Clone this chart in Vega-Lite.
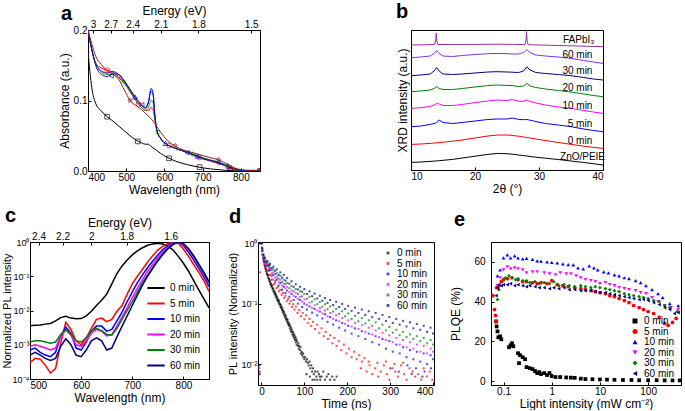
{
"$schema":"https://vega.github.io/schema/vega-lite/v6.json",
"padding":{"left":0,"top":0,"right":0,"bottom":0},
"background":"white",
"config":{
 "font":"Liberation Sans",
 "view":{"stroke":"#000000","strokeWidth":1},
 "axis":{"grid":false,"domainColor":"#000","tickColor":"#000","tickSize":-3,"labelColor":"#000","titleColor":"#000","labelFontSize":10,"titleFontSize":12,"titleFontWeight":"normal","labelPadding":4,"titlePadding":2,"labelFont":"Liberation Sans","titleFont":"Liberation Sans"},
 "legend":{"labelFontSize":10,"labelColor":"#000","rowPadding":0.5,"padding":0,"symbolStrokeWidth":1.2,"labelFont":"Liberation Sans","labelLimit":90},
 "title":{"fontSize":20,"fontWeight":"bold","anchor":"start","frame":"group","color":"#000","font":"Liberation Sans"}
},
"datasets":{
"aL":[
{"s":"0 min","x":400,"y":0.17},{"s":"0 min","x":410,"y":0.118},{"s":"0 min","x":420,"y":0.096},{"s":"0 min","x":435,"y":0.085},{"s":"0 min","x":450,"y":0.077},{"s":"0 min","x":465,"y":0.071},{"s":"0 min","x":480,"y":0.064},{"s":"0 min","x":495,"y":0.057},{"s":"0 min","x":510,"y":0.05},{"s":"0 min","x":525,"y":0.044},{"s":"0 min","x":540,"y":0.04},{"s":"0 min","x":550,"y":0.038},{"s":"0 min","x":558,"y":0.038},{"s":"0 min","x":565,"y":0.035},{"s":"0 min","x":570,"y":0.033},{"s":"0 min","x":575,"y":0.031},{"s":"0 min","x":580,"y":0.029},{"s":"0 min","x":590,"y":0.025},{"s":"0 min","x":605,"y":0.02},{"s":"0 min","x":620,"y":0.016},{"s":"0 min","x":640,"y":0.012},{"s":"0 min","x":660,"y":0.009},{"s":"0 min","x":680,"y":0.0065},{"s":"0 min","x":700,"y":0.0045},{"s":"0 min","x":720,"y":0.003},{"s":"0 min","x":740,"y":0.002},{"s":"0 min","x":760,"y":0.001},{"s":"0 min","x":780,"y":0.0005},{"s":"0 min","x":800,"y":0},{"s":"0 min","x":825,"y":0},{"s":"0 min","x":850,"y":0},
{"s":"5 min","x":400,"y":0.2},{"s":"5 min","x":410,"y":0.172},{"s":"5 min","x":420,"y":0.153},{"s":"5 min","x":435,"y":0.146},{"s":"5 min","x":450,"y":0.143},{"s":"5 min","x":465,"y":0.14},{"s":"5 min","x":480,"y":0.134},{"s":"5 min","x":495,"y":0.125},{"s":"5 min","x":510,"y":0.112},{"s":"5 min","x":525,"y":0.1},{"s":"5 min","x":540,"y":0.09},{"s":"5 min","x":550,"y":0.086},{"s":"5 min","x":558,"y":0.086},{"s":"5 min","x":565,"y":0.09},{"s":"5 min","x":570,"y":0.087},{"s":"5 min","x":575,"y":0.073},{"s":"5 min","x":580,"y":0.058},{"s":"5 min","x":590,"y":0.047},{"s":"5 min","x":605,"y":0.038},{"s":"5 min","x":620,"y":0.034},{"s":"5 min","x":640,"y":0.03},{"s":"5 min","x":660,"y":0.026},{"s":"5 min","x":680,"y":0.021},{"s":"5 min","x":700,"y":0.017},{"s":"5 min","x":720,"y":0.014},{"s":"5 min","x":740,"y":0.011},{"s":"5 min","x":760,"y":0.007},{"s":"5 min","x":780,"y":0.003},{"s":"5 min","x":800,"y":0.001},{"s":"5 min","x":825,"y":0},{"s":"5 min","x":850,"y":0},
{"s":"10 min","x":400,"y":0.2},{"s":"10 min","x":410,"y":0.172},{"s":"10 min","x":420,"y":0.153},{"s":"10 min","x":435,"y":0.142},{"s":"10 min","x":450,"y":0.139},{"s":"10 min","x":465,"y":0.141},{"s":"10 min","x":480,"y":0.137},{"s":"10 min","x":495,"y":0.127},{"s":"10 min","x":510,"y":0.115},{"s":"10 min","x":525,"y":0.103},{"s":"10 min","x":540,"y":0.093},{"s":"10 min","x":550,"y":0.089},{"s":"10 min","x":558,"y":0.097},{"s":"10 min","x":565,"y":0.117},{"s":"10 min","x":570,"y":0.112},{"s":"10 min","x":575,"y":0.08},{"s":"10 min","x":580,"y":0.058},{"s":"10 min","x":590,"y":0.046},{"s":"10 min","x":605,"y":0.038},{"s":"10 min","x":620,"y":0.034},{"s":"10 min","x":640,"y":0.03},{"s":"10 min","x":660,"y":0.027},{"s":"10 min","x":680,"y":0.022},{"s":"10 min","x":700,"y":0.018},{"s":"10 min","x":720,"y":0.015},{"s":"10 min","x":740,"y":0.012},{"s":"10 min","x":760,"y":0.008},{"s":"10 min","x":780,"y":0.004},{"s":"10 min","x":800,"y":0.001},{"s":"10 min","x":825,"y":0},{"s":"10 min","x":850,"y":0},
{"s":"20 min","x":400,"y":0.2},{"s":"20 min","x":410,"y":0.172},{"s":"20 min","x":420,"y":0.152},{"s":"20 min","x":435,"y":0.14},{"s":"20 min","x":450,"y":0.137},{"s":"20 min","x":465,"y":0.137},{"s":"20 min","x":480,"y":0.132},{"s":"20 min","x":495,"y":0.125},{"s":"20 min","x":510,"y":0.113},{"s":"20 min","x":525,"y":0.1},{"s":"20 min","x":540,"y":0.09},{"s":"20 min","x":550,"y":0.086},{"s":"20 min","x":558,"y":0.09},{"s":"20 min","x":565,"y":0.1},{"s":"20 min","x":570,"y":0.098},{"s":"20 min","x":575,"y":0.075},{"s":"20 min","x":580,"y":0.057},{"s":"20 min","x":590,"y":0.046},{"s":"20 min","x":605,"y":0.038},{"s":"20 min","x":620,"y":0.034},{"s":"20 min","x":640,"y":0.03},{"s":"20 min","x":660,"y":0.027},{"s":"20 min","x":680,"y":0.023},{"s":"20 min","x":700,"y":0.019},{"s":"20 min","x":720,"y":0.016},{"s":"20 min","x":740,"y":0.013},{"s":"20 min","x":760,"y":0.009},{"s":"20 min","x":780,"y":0.004},{"s":"20 min","x":800,"y":0.001},{"s":"20 min","x":825,"y":0},{"s":"20 min","x":850,"y":0},
{"s":"30 min","x":400,"y":0.2},{"s":"30 min","x":410,"y":0.172},{"s":"30 min","x":420,"y":0.15},{"s":"30 min","x":435,"y":0.137},{"s":"30 min","x":450,"y":0.134},{"s":"30 min","x":465,"y":0.138},{"s":"30 min","x":480,"y":0.137},{"s":"30 min","x":495,"y":0.128},{"s":"30 min","x":510,"y":0.116},{"s":"30 min","x":525,"y":0.104},{"s":"30 min","x":540,"y":0.094},{"s":"30 min","x":550,"y":0.09},{"s":"30 min","x":558,"y":0.098},{"s":"30 min","x":565,"y":0.113},{"s":"30 min","x":570,"y":0.108},{"s":"30 min","x":575,"y":0.078},{"s":"30 min","x":580,"y":0.058},{"s":"30 min","x":590,"y":0.046},{"s":"30 min","x":605,"y":0.038},{"s":"30 min","x":620,"y":0.034},{"s":"30 min","x":640,"y":0.03},{"s":"30 min","x":660,"y":0.026},{"s":"30 min","x":680,"y":0.022},{"s":"30 min","x":700,"y":0.018},{"s":"30 min","x":720,"y":0.015},{"s":"30 min","x":740,"y":0.012},{"s":"30 min","x":760,"y":0.008},{"s":"30 min","x":780,"y":0.003},{"s":"30 min","x":800,"y":0.001},{"s":"30 min","x":825,"y":0},{"s":"30 min","x":850,"y":0},
{"s":"60 min","x":400,"y":0.2},{"s":"60 min","x":410,"y":0.18},{"s":"60 min","x":420,"y":0.163},{"s":"60 min","x":435,"y":0.151},{"s":"60 min","x":450,"y":0.142},{"s":"60 min","x":465,"y":0.137},{"s":"60 min","x":480,"y":0.13},{"s":"60 min","x":495,"y":0.115},{"s":"60 min","x":510,"y":0.1},{"s":"60 min","x":525,"y":0.093},{"s":"60 min","x":540,"y":0.087},{"s":"60 min","x":550,"y":0.082},{"s":"60 min","x":558,"y":0.078},{"s":"60 min","x":565,"y":0.074},{"s":"60 min","x":570,"y":0.071},{"s":"60 min","x":575,"y":0.067},{"s":"60 min","x":580,"y":0.063},{"s":"60 min","x":590,"y":0.055},{"s":"60 min","x":605,"y":0.045},{"s":"60 min","x":620,"y":0.038},{"s":"60 min","x":640,"y":0.032},{"s":"60 min","x":660,"y":0.028},{"s":"60 min","x":680,"y":0.025},{"s":"60 min","x":700,"y":0.022},{"s":"60 min","x":720,"y":0.019},{"s":"60 min","x":740,"y":0.016},{"s":"60 min","x":760,"y":0.011},{"s":"60 min","x":780,"y":0.005},{"s":"60 min","x":800,"y":0.002},{"s":"60 min","x":825,"y":0.001},{"s":"60 min","x":850,"y":0.001}
],
"aM":[
{"s":"0 min","x":450,"y":0.077},{"s":"0 min","x":530,"y":0.042},{"s":"0 min","x":612,"y":0.018},{"s":"0 min","x":692,"y":0.0055},{"s":"0 min","x":772,"y":0.0007},{"s":"0 min","x":850,"y":0},
{"s":"5 min","x":450,"y":0.143},{"s":"5 min","x":532,"y":0.095},{"s":"5 min","x":612,"y":0.036},{"s":"5 min","x":692,"y":0.019},{"s":"5 min","x":772,"y":0.005},
{"s":"10 min","x":523,"y":0.105},{"s":"10 min","x":603,"y":0.039},{"s":"10 min","x":686,"y":0.021},{"s":"10 min","x":766,"y":0.007},
{"s":"20 min","x":492,"y":0.127},{"s":"20 min","x":583,"y":0.055},{"s":"20 min","x":674,"y":0.024},{"s":"20 min","x":765,"y":0.008},
{"s":"30 min","x":461,"y":0.135},{"s":"30 min","x":541,"y":0.094},{"s":"30 min","x":659,"y":0.026},{"s":"30 min","x":740,"y":0.012},
{"s":"60 min","x":510,"y":0.1},{"s":"60 min","x":628,"y":0.036},{"s":"60 min","x":741,"y":0.016},{"s":"60 min","x":848,"y":0.001}
],
"bL":[
{"s":"ZnO/PEIE","x":10,"y":7.6},{"s":"ZnO/PEIE","x":11.5,"y":8},{"s":"ZnO/PEIE","x":13,"y":8.6},{"s":"ZnO/PEIE","x":13.6,"y":8.9},{"s":"ZnO/PEIE","x":14,"y":9.1},{"s":"ZnO/PEIE","x":14.4,"y":9.3},{"s":"ZnO/PEIE","x":15,"y":9.7},{"s":"ZnO/PEIE","x":16.5,"y":10.6},{"s":"ZnO/PEIE","x":18,"y":12},{"s":"ZnO/PEIE","x":20,"y":13.8},{"s":"ZnO/PEIE","x":22,"y":15.6},{"s":"ZnO/PEIE","x":23.5,"y":16.6},{"s":"ZnO/PEIE","x":25,"y":16.3},{"s":"ZnO/PEIE","x":25.8,"y":15.8},{"s":"ZnO/PEIE","x":26.8,"y":15},{"s":"ZnO/PEIE","x":27.6,"y":14.4},{"s":"ZnO/PEIE","x":28.1,"y":14},{"s":"ZnO/PEIE","x":28.6,"y":13.5},{"s":"ZnO/PEIE","x":29.5,"y":12.8},{"s":"ZnO/PEIE","x":31,"y":11.8},{"s":"ZnO/PEIE","x":33,"y":10.5},{"s":"ZnO/PEIE","x":35,"y":9},{"s":"ZnO/PEIE","x":37,"y":7.5},{"s":"ZnO/PEIE","x":38.5,"y":6.3},{"s":"ZnO/PEIE","x":40,"y":5},
{"s":"0 min","x":10,"y":25.6},{"s":"0 min","x":11.5,"y":26},{"s":"0 min","x":13,"y":26.6},{"s":"0 min","x":13.6,"y":27},{"s":"0 min","x":14,"y":27.2},{"s":"0 min","x":14.4,"y":27.4},{"s":"0 min","x":15,"y":27.8},{"s":"0 min","x":16.5,"y":28.8},{"s":"0 min","x":18,"y":30},{"s":"0 min","x":20,"y":32},{"s":"0 min","x":22,"y":34},{"s":"0 min","x":23.5,"y":35},{"s":"0 min","x":25,"y":35},{"s":"0 min","x":25.8,"y":34.6},{"s":"0 min","x":26.8,"y":33.8},{"s":"0 min","x":27.6,"y":33},{"s":"0 min","x":28.1,"y":32.5},{"s":"0 min","x":28.6,"y":32},{"s":"0 min","x":29.5,"y":31},{"s":"0 min","x":31,"y":29.5},{"s":"0 min","x":33,"y":27.5},{"s":"0 min","x":35,"y":25.6},{"s":"0 min","x":37,"y":23.8},{"s":"0 min","x":38.5,"y":22.6},{"s":"0 min","x":40,"y":21.6},
{"s":"5 min","x":10,"y":43.3},{"s":"5 min","x":11.5,"y":44},{"s":"5 min","x":13,"y":45.5},{"s":"5 min","x":13.6,"y":46.5},{"s":"5 min","x":14,"y":47.5},{"s":"5 min","x":14.4,"y":50},{"s":"5 min","x":15,"y":47.5},{"s":"5 min","x":16.5,"y":46.5},{"s":"5 min","x":18,"y":47.5},{"s":"5 min","x":20,"y":49},{"s":"5 min","x":22,"y":50.5},{"s":"5 min","x":23.5,"y":51},{"s":"5 min","x":25,"y":51},{"s":"5 min","x":25.8,"y":52},{"s":"5 min","x":26.8,"y":50.6},{"s":"5 min","x":27.6,"y":50.3},{"s":"5 min","x":28.1,"y":50.5},{"s":"5 min","x":28.6,"y":49.8},{"s":"5 min","x":29.5,"y":48.5},{"s":"5 min","x":31,"y":46.5},{"s":"5 min","x":33,"y":45},{"s":"5 min","x":35,"y":43.3},{"s":"5 min","x":37,"y":41},{"s":"5 min","x":38.5,"y":39.5},{"s":"5 min","x":40,"y":38.3},
{"s":"10 min","x":10,"y":61.6},{"s":"10 min","x":11.5,"y":62.3},{"s":"10 min","x":13,"y":63.5},{"s":"10 min","x":13.6,"y":65},{"s":"10 min","x":14,"y":66.5},{"s":"10 min","x":14.4,"y":66},{"s":"10 min","x":15,"y":64.5},{"s":"10 min","x":16.5,"y":64.5},{"s":"10 min","x":18,"y":65.5},{"s":"10 min","x":20,"y":67.5},{"s":"10 min","x":22,"y":69},{"s":"10 min","x":23.5,"y":70},{"s":"10 min","x":25,"y":69.5},{"s":"10 min","x":25.8,"y":70.5},{"s":"10 min","x":26.8,"y":68.8},{"s":"10 min","x":27.6,"y":68.7},{"s":"10 min","x":28.1,"y":70},{"s":"10 min","x":28.6,"y":68.5},{"s":"10 min","x":29.5,"y":67},{"s":"10 min","x":31,"y":65},{"s":"10 min","x":33,"y":63},{"s":"10 min","x":35,"y":61.6},{"s":"10 min","x":37,"y":59.5},{"s":"10 min","x":38.5,"y":58},{"s":"10 min","x":40,"y":56.6},
{"s":"20 min","x":10,"y":78.3},{"s":"20 min","x":11.5,"y":79},{"s":"20 min","x":13,"y":80},{"s":"20 min","x":13.6,"y":81.5},{"s":"20 min","x":14,"y":83.5},{"s":"20 min","x":14.4,"y":81.5},{"s":"20 min","x":15,"y":80.5},{"s":"20 min","x":16.5,"y":80.5},{"s":"20 min","x":18,"y":81.5},{"s":"20 min","x":20,"y":83},{"s":"20 min","x":22,"y":84.5},{"s":"20 min","x":23.5,"y":85},{"s":"20 min","x":25,"y":84.6},{"s":"20 min","x":25.8,"y":84.5},{"s":"20 min","x":26.8,"y":83.5},{"s":"20 min","x":27.6,"y":84},{"s":"20 min","x":28.1,"y":86.7},{"s":"20 min","x":28.6,"y":84},{"s":"20 min","x":29.5,"y":82.5},{"s":"20 min","x":31,"y":81},{"s":"20 min","x":33,"y":79.5},{"s":"20 min","x":35,"y":78},{"s":"20 min","x":37,"y":76},{"s":"20 min","x":38.5,"y":74.5},{"s":"20 min","x":40,"y":73.3},
{"s":"30 min","x":10,"y":94.3},{"s":"30 min","x":11.5,"y":95},{"s":"30 min","x":13,"y":96},{"s":"30 min","x":13.6,"y":99},{"s":"30 min","x":14,"y":102.5},{"s":"30 min","x":14.4,"y":99},{"s":"30 min","x":15,"y":96},{"s":"30 min","x":16.5,"y":95.5},{"s":"30 min","x":18,"y":96},{"s":"30 min","x":20,"y":97},{"s":"30 min","x":22,"y":98},{"s":"30 min","x":23.5,"y":98.3},{"s":"30 min","x":25,"y":98},{"s":"30 min","x":25.8,"y":97.8},{"s":"30 min","x":26.8,"y":97.5},{"s":"30 min","x":27.6,"y":99},{"s":"30 min","x":28.1,"y":103.3},{"s":"30 min","x":28.6,"y":100},{"s":"30 min","x":29.5,"y":97.5},{"s":"30 min","x":31,"y":96.5},{"s":"30 min","x":33,"y":95.5},{"s":"30 min","x":35,"y":94.3},{"s":"30 min","x":37,"y":92.5},{"s":"30 min","x":38.5,"y":91},{"s":"30 min","x":40,"y":90},
{"s":"60 min","x":10,"y":112.3},{"s":"60 min","x":11.5,"y":113},{"s":"60 min","x":13,"y":114},{"s":"60 min","x":13.6,"y":116.5},{"s":"60 min","x":14,"y":119.5},{"s":"60 min","x":14.4,"y":116.5},{"s":"60 min","x":15,"y":114},{"s":"60 min","x":16.5,"y":113.5},{"s":"60 min","x":18,"y":114.5},{"s":"60 min","x":20,"y":115.5},{"s":"60 min","x":22,"y":116.3},{"s":"60 min","x":23.5,"y":116.6},{"s":"60 min","x":25,"y":116.3},{"s":"60 min","x":25.8,"y":116},{"s":"60 min","x":26.8,"y":116},{"s":"60 min","x":27.6,"y":117.5},{"s":"60 min","x":28.1,"y":120.5},{"s":"60 min","x":28.6,"y":117.5},{"s":"60 min","x":29.5,"y":115},{"s":"60 min","x":31,"y":114},{"s":"60 min","x":33,"y":113},{"s":"60 min","x":35,"y":111.6},{"s":"60 min","x":37,"y":109.5},{"s":"60 min","x":38.5,"y":108},{"s":"60 min","x":40,"y":106.6},
{"s":"FAPbI3","x":10,"y":125},{"s":"FAPbI3","x":12,"y":125.2},{"s":"FAPbI3","x":13.7,"y":125.5},{"s":"FAPbI3","x":13.85,"y":129},{"s":"FAPbI3","x":13.95,"y":137},{"s":"FAPbI3","x":14.05,"y":129},{"s":"FAPbI3","x":14.2,"y":125.5},{"s":"FAPbI3","x":16,"y":125.5},{"s":"FAPbI3","x":20,"y":125.6},{"s":"FAPbI3","x":24,"y":125.8},{"s":"FAPbI3","x":26,"y":125.6},{"s":"FAPbI3","x":27.8,"y":125.4},{"s":"FAPbI3","x":27.95,"y":129},{"s":"FAPbI3","x":28.05,"y":138.5},{"s":"FAPbI3","x":28.15,"y":129},{"s":"FAPbI3","x":28.3,"y":125.3},{"s":"FAPbI3","x":30,"y":125},{"s":"FAPbI3","x":33,"y":124.5},{"s":"FAPbI3","x":36,"y":124},{"s":"FAPbI3","x":40,"y":123.3}
],
"bT":[
{"t":"FAPbI₃","x":36.2,"y":130},{"t":"60 min","x":36.0,"y":115},{"t":"30 min","x":36.0,"y":99},{"t":"20 min","x":36.0,"y":82},{"t":"10 min","x":36.0,"y":64},{"t":"5 min","x":36.4,"y":46.5},{"t":"0 min","x":36.4,"y":29.5},{"t":"ZnO/PEIE","x":36.8,"y":13}
],
"cL":[
{"s":"0 min","x":500,"y":0.0036},{"s":"0 min","x":510,"y":0.0037},{"s":"0 min","x":520,"y":0.0038},{"s":"0 min","x":530,"y":0.004},{"s":"0 min","x":540,"y":0.0042},{"s":"0 min","x":550,"y":0.005},{"s":"0 min","x":560,"y":0.0062},{"s":"0 min","x":570,"y":0.0068},{"s":"0 min","x":580,"y":0.006},{"s":"0 min","x":590,"y":0.0057},{"s":"0 min","x":600,"y":0.0058},{"s":"0 min","x":610,"y":0.007},{"s":"0 min","x":620,"y":0.0095},{"s":"0 min","x":630,"y":0.014},{"s":"0 min","x":640,"y":0.02},{"s":"0 min","x":650,"y":0.03},{"s":"0 min","x":660,"y":0.06},{"s":"0 min","x":670,"y":0.12},{"s":"0 min","x":680,"y":0.2},{"s":"0 min","x":690,"y":0.3},{"s":"0 min","x":700,"y":0.42},{"s":"0 min","x":710,"y":0.55},{"s":"0 min","x":720,"y":0.68},{"s":"0 min","x":730,"y":0.8},{"s":"0 min","x":740,"y":0.88},{"s":"0 min","x":750,"y":0.92},{"s":"0 min","x":760,"y":0.87},{"s":"0 min","x":770,"y":0.75},{"s":"0 min","x":780,"y":0.58},{"s":"0 min","x":790,"y":0.38},{"s":"0 min","x":800,"y":0.24},{"s":"0 min","x":810,"y":0.14},{"s":"0 min","x":820,"y":0.075},{"s":"0 min","x":830,"y":0.04},{"s":"0 min","x":840,"y":0.022},{"s":"0 min","x":850,"y":0.012},
{"s":"5 min","x":500,"y":0.0003},{"s":"5 min","x":510,"y":0.0004},{"s":"5 min","x":520,"y":0.00038},{"s":"5 min","x":530,"y":0.00025},{"s":"5 min","x":540,"y":0.00015},{"s":"5 min","x":550,"y":0.0002},{"s":"5 min","x":560,"y":0.0011},{"s":"5 min","x":570,"y":0.0045},{"s":"5 min","x":580,"y":0.0028},{"s":"5 min","x":590,"y":0.0013},{"s":"5 min","x":600,"y":0.001},{"s":"5 min","x":610,"y":0.0016},{"s":"5 min","x":620,"y":0.003},{"s":"5 min","x":630,"y":0.0055},{"s":"5 min","x":640,"y":0.006},{"s":"5 min","x":650,"y":0.0047},{"s":"5 min","x":660,"y":0.0055},{"s":"5 min","x":670,"y":0.0095},{"s":"5 min","x":680,"y":0.014},{"s":"5 min","x":690,"y":0.03},{"s":"5 min","x":700,"y":0.06},{"s":"5 min","x":710,"y":0.1},{"s":"5 min","x":720,"y":0.16},{"s":"5 min","x":730,"y":0.26},{"s":"5 min","x":740,"y":0.4},{"s":"5 min","x":750,"y":0.58},{"s":"5 min","x":760,"y":0.76},{"s":"5 min","x":770,"y":0.9},{"s":"5 min","x":780,"y":0.98},{"s":"5 min","x":790,"y":0.92},{"s":"5 min","x":800,"y":0.62},{"s":"5 min","x":810,"y":0.38},{"s":"5 min","x":820,"y":0.22},{"s":"5 min","x":830,"y":0.13},{"s":"5 min","x":840,"y":0.073},{"s":"5 min","x":850,"y":0.036},
{"s":"10 min","x":500,"y":0.0007},{"s":"10 min","x":510,"y":0.0008},{"s":"10 min","x":520,"y":0.0006},{"s":"10 min","x":530,"y":0.0005},{"s":"10 min","x":540,"y":0.00045},{"s":"10 min","x":550,"y":0.0006},{"s":"10 min","x":560,"y":0.0018},{"s":"10 min","x":570,"y":0.0033},{"s":"10 min","x":580,"y":0.0022},{"s":"10 min","x":590,"y":0.0008},{"s":"10 min","x":600,"y":0.0007},{"s":"10 min","x":610,"y":0.0012},{"s":"10 min","x":620,"y":0.0025},{"s":"10 min","x":630,"y":0.0035},{"s":"10 min","x":640,"y":0.0035},{"s":"10 min","x":650,"y":0.0025},{"s":"10 min","x":660,"y":0.0028},{"s":"10 min","x":670,"y":0.005},{"s":"10 min","x":680,"y":0.009},{"s":"10 min","x":690,"y":0.018},{"s":"10 min","x":700,"y":0.035},{"s":"10 min","x":710,"y":0.065},{"s":"10 min","x":720,"y":0.11},{"s":"10 min","x":730,"y":0.18},{"s":"10 min","x":740,"y":0.28},{"s":"10 min","x":750,"y":0.42},{"s":"10 min","x":760,"y":0.6},{"s":"10 min","x":770,"y":0.8},{"s":"10 min","x":780,"y":0.95},{"s":"10 min","x":790,"y":1.0},{"s":"10 min","x":800,"y":0.78},{"s":"10 min","x":810,"y":0.5},{"s":"10 min","x":820,"y":0.3},{"s":"10 min","x":830,"y":0.17},{"s":"10 min","x":840,"y":0.095},{"s":"10 min","x":850,"y":0.05},
{"s":"20 min","x":500,"y":0.0009},{"s":"20 min","x":510,"y":0.001},{"s":"20 min","x":520,"y":0.0009},{"s":"20 min","x":530,"y":0.0008},{"s":"20 min","x":540,"y":0.0007},{"s":"20 min","x":550,"y":0.0008},{"s":"20 min","x":560,"y":0.0018},{"s":"20 min","x":570,"y":0.0027},{"s":"20 min","x":580,"y":0.0019},{"s":"20 min","x":590,"y":0.001},{"s":"20 min","x":600,"y":0.0009},{"s":"20 min","x":610,"y":0.0013},{"s":"20 min","x":620,"y":0.0022},{"s":"20 min","x":630,"y":0.0028},{"s":"20 min","x":640,"y":0.0025},{"s":"20 min","x":650,"y":0.0018},{"s":"20 min","x":660,"y":0.002},{"s":"20 min","x":670,"y":0.0035},{"s":"20 min","x":680,"y":0.0065},{"s":"20 min","x":690,"y":0.012},{"s":"20 min","x":700,"y":0.024},{"s":"20 min","x":710,"y":0.045},{"s":"20 min","x":720,"y":0.08},{"s":"20 min","x":730,"y":0.14},{"s":"20 min","x":740,"y":0.22},{"s":"20 min","x":750,"y":0.35},{"s":"20 min","x":760,"y":0.52},{"s":"20 min","x":770,"y":0.72},{"s":"20 min","x":780,"y":0.9},{"s":"20 min","x":790,"y":1.0},{"s":"20 min","x":800,"y":0.85},{"s":"20 min","x":810,"y":0.58},{"s":"20 min","x":820,"y":0.36},{"s":"20 min","x":830,"y":0.2},{"s":"20 min","x":840,"y":0.11},{"s":"20 min","x":850,"y":0.06},
{"s":"30 min","x":500,"y":0.0012},{"s":"30 min","x":510,"y":0.0013},{"s":"30 min","x":520,"y":0.0013},{"s":"30 min","x":530,"y":0.0012},{"s":"30 min","x":540,"y":0.0011},{"s":"30 min","x":550,"y":0.0012},{"s":"30 min","x":560,"y":0.002},{"s":"30 min","x":570,"y":0.0028},{"s":"30 min","x":580,"y":0.0021},{"s":"30 min","x":590,"y":0.0013},{"s":"30 min","x":600,"y":0.0012},{"s":"30 min","x":610,"y":0.0016},{"s":"30 min","x":620,"y":0.0026},{"s":"30 min","x":630,"y":0.003},{"s":"30 min","x":640,"y":0.0026},{"s":"30 min","x":650,"y":0.002},{"s":"30 min","x":660,"y":0.0019},{"s":"30 min","x":670,"y":0.003},{"s":"30 min","x":680,"y":0.0055},{"s":"30 min","x":690,"y":0.01},{"s":"30 min","x":700,"y":0.018},{"s":"30 min","x":710,"y":0.035},{"s":"30 min","x":720,"y":0.065},{"s":"30 min","x":730,"y":0.11},{"s":"30 min","x":740,"y":0.18},{"s":"30 min","x":750,"y":0.3},{"s":"30 min","x":760,"y":0.46},{"s":"30 min","x":770,"y":0.66},{"s":"30 min","x":780,"y":0.86},{"s":"30 min","x":790,"y":0.99},{"s":"30 min","x":800,"y":0.88},{"s":"30 min","x":810,"y":0.62},{"s":"30 min","x":820,"y":0.38},{"s":"30 min","x":830,"y":0.22},{"s":"30 min","x":840,"y":0.12},{"s":"30 min","x":850,"y":0.065},
{"s":"60 min","x":500,"y":0.0005},{"s":"60 min","x":510,"y":0.0006},{"s":"60 min","x":520,"y":0.0005},{"s":"60 min","x":530,"y":0.0004},{"s":"60 min","x":540,"y":0.00035},{"s":"60 min","x":550,"y":0.0004},{"s":"60 min","x":560,"y":0.0009},{"s":"60 min","x":570,"y":0.0015},{"s":"60 min","x":580,"y":0.001},{"s":"60 min","x":590,"y":0.0005},{"s":"60 min","x":600,"y":0.00045},{"s":"60 min","x":610,"y":0.0007},{"s":"60 min","x":620,"y":0.0013},{"s":"60 min","x":630,"y":0.0016},{"s":"60 min","x":640,"y":0.0013},{"s":"60 min","x":650,"y":0.0007},{"s":"60 min","x":660,"y":0.0008},{"s":"60 min","x":670,"y":0.0017},{"s":"60 min","x":680,"y":0.0035},{"s":"60 min","x":690,"y":0.007},{"s":"60 min","x":700,"y":0.014},{"s":"60 min","x":710,"y":0.028},{"s":"60 min","x":720,"y":0.055},{"s":"60 min","x":730,"y":0.1},{"s":"60 min","x":740,"y":0.17},{"s":"60 min","x":750,"y":0.28},{"s":"60 min","x":760,"y":0.44},{"s":"60 min","x":770,"y":0.64},{"s":"60 min","x":780,"y":0.85},{"s":"60 min","x":790,"y":1.0},{"s":"60 min","x":800,"y":0.9},{"s":"60 min","x":810,"y":0.65},{"s":"60 min","x":820,"y":0.4},{"s":"60 min","x":830,"y":0.23},{"s":"60 min","x":840,"y":0.13},{"s":"60 min","x":850,"y":0.07}
],
"dP":[
{"s":"0 min","x":0,"y":1},{"s":"0 min","x":1,"y":0.85},{"s":"0 min","x":2,"y":0.74},{"s":"0 min","x":3,"y":0.65},{"s":"0 min","x":4,"y":0.58},{"s":"0 min","x":5,"y":0.53},{"s":"0 min","x":6,"y":0.49},{"s":"0 min","x":7,"y":0.45},{"s":"0 min","x":8,"y":0.42},{"s":"0 min","x":9,"y":0.39},{"s":"0 min","x":10,"y":0.37},{"s":"0 min","x":11,"y":0.35},{"s":"0 min","x":12,"y":0.33},{"s":"0 min","x":13,"y":0.31},{"s":"0 min","x":14,"y":0.3},{"s":"0 min","x":15,"y":0.29},{"s":"0 min","x":16,"y":0.27},{"s":"0 min","x":17,"y":0.26},{"s":"0 min","x":18,"y":0.25},{"s":"0 min","x":19,"y":0.235},{"s":"0 min","x":20,"y":0.23},{"s":"0 min","x":21,"y":0.21},{"s":"0 min","x":22,"y":0.215},{"s":"0 min","x":23,"y":0.2},{"s":"0 min","x":24,"y":0.19},{"s":"0 min","x":25,"y":0.2},{"s":"0 min","x":26,"y":0.175},{"s":"0 min","x":27,"y":0.18},{"s":"0 min","x":28,"y":0.16},{"s":"0 min","x":29,"y":0.165},{"s":"0 min","x":30,"y":0.155},{"s":"0 min","x":31,"y":0.145},{"s":"0 min","x":32,"y":0.15},{"s":"0 min","x":33,"y":0.135},{"s":"0 min","x":34,"y":0.14},{"s":"0 min","x":35,"y":0.125},{"s":"0 min","x":36,"y":0.13},{"s":"0 min","x":37,"y":0.115},{"s":"0 min","x":38,"y":0.12},{"s":"0 min","x":39,"y":0.11},{"s":"0 min","x":40,"y":0.105},{"s":"0 min","x":41,"y":0.112},{"s":"0 min","x":42,"y":0.098},{"s":"0 min","x":43,"y":0.1},{"s":"0 min","x":44,"y":0.09},{"s":"0 min","x":45,"y":0.095},{"s":"0 min","x":46,"y":0.085},{"s":"0 min","x":47,"y":0.088},{"s":"0 min","x":48,"y":0.078},{"s":"0 min","x":49,"y":0.082},{"s":"0 min","x":50,"y":0.072},{"s":"0 min","x":51,"y":0.076},{"s":"0 min","x":52,"y":0.067},{"s":"0 min","x":53,"y":0.072},{"s":"0 min","x":54,"y":0.062},{"s":"0 min","x":55,"y":0.066},{"s":"0 min","x":56,"y":0.058},{"s":"0 min","x":57,"y":0.062},{"s":"0 min","x":58,"y":0.054},{"s":"0 min","x":59,"y":0.056},{"s":"0 min","x":60,"y":0.05},{"s":"0 min","x":61,"y":0.054},{"s":"0 min","x":62,"y":0.046},{"s":"0 min","x":63,"y":0.049},{"s":"0 min","x":64,"y":0.043},{"s":"0 min","x":65,"y":0.046},{"s":"0 min","x":66,"y":0.039},{"s":"0 min","x":67,"y":0.043},{"s":"0 min","x":68,"y":0.036},{"s":"0 min","x":69,"y":0.04},{"s":"0 min","x":70,"y":0.034},{"s":"0 min","x":71,"y":0.037},{"s":"0 min","x":72,"y":0.031},{"s":"0 min","x":73,"y":0.034},{"s":"0 min","x":74,"y":0.029},{"s":"0 min","x":75,"y":0.032},{"s":"0 min","x":76,"y":0.027},{"s":"0 min","x":77,"y":0.03},{"s":"0 min","x":78,"y":0.025},{"s":"0 min","x":79,"y":0.028},{"s":"0 min","x":80,"y":0.023},{"s":"0 min","x":81,"y":0.026},{"s":"0 min","x":82,"y":0.021},{"s":"0 min","x":83,"y":0.024},{"s":"0 min","x":85,"y":0.02},{"s":"0 min","x":86,"y":0.022},{"s":"0 min","x":87,"y":0.018},{"s":"0 min","x":88,"y":0.02},{"s":"0 min","x":90,"y":0.017},{"s":"0 min","x":91,"y":0.019},{"s":"0 min","x":92,"y":0.015},{"s":"0 min","x":94,"y":0.016},{"s":"0 min","x":95,"y":0.014},{"s":"0 min","x":97,"y":0.015},{"s":"0 min","x":98,"y":0.013},{"s":"0 min","x":100,"y":0.012},{"s":"0 min","x":102,"y":0.013},{"s":"0 min","x":104,"y":0.011},{"s":"0 min","x":106,"y":0.012},{"s":"0 min","x":108,"y":0.0105},{"s":"0 min","x":110,"y":0.0095},{"s":"0 min","x":112,"y":0.011},{"s":"0 min","x":114,"y":0.0085},{"s":"0 min","x":116,"y":0.0095},{"s":"0 min","x":118,"y":0.0075},{"s":"0 min","x":120,"y":0.0085},{"s":"0 min","x":122,"y":0.0068},{"s":"0 min","x":125,"y":0.0075},{"s":"0 min","x":128,"y":0.0062},{"s":"0 min","x":131,"y":0.0075},{"s":"0 min","x":134,"y":0.0068},{"s":"0 min","x":137,"y":0.0055},{"s":"0 min","x":140,"y":0.0062},{"s":"0 min","x":144,"y":0.0075},{"s":"0 min","x":148,"y":0.0055},{"s":"0 min","x":152,"y":0.0062},{"s":"0 min","x":156,"y":0.0068},{"s":"0 min","x":160,"y":0.0055},{"s":"0 min","x":165,"y":0.0062},{"s":"0 min","x":170,"y":0.0055},{"s":"0 min","x":175,"y":0.0062},{"s":"0 min","x":105,"y":0.0068},{"s":"0 min","x":113,"y":0.0062},{"s":"0 min","x":119,"y":0.0055},{"s":"0 min","x":124,"y":0.0055},{"s":"0 min","x":130,"y":0.0055},{"s":"0 min","x":136,"y":0.0062},{"s":"0 min","x":-4,"y":0.0068},
{"s":"5 min","x":0,"y":1},{"s":"5 min","x":2,"y":0.65},{"s":"5 min","x":5,"y":0.5},{"s":"5 min","x":8,"y":0.43},{"s":"5 min","x":11,"y":0.37},{"s":"5 min","x":14,"y":0.36},{"s":"5 min","x":17,"y":0.3},{"s":"5 min","x":20,"y":0.3},{"s":"5 min","x":23,"y":0.25},{"s":"5 min","x":26,"y":0.25},{"s":"5 min","x":29,"y":0.21},{"s":"5 min","x":32,"y":0.22},{"s":"5 min","x":35,"y":0.18},{"s":"5 min","x":38,"y":0.19},{"s":"5 min","x":41,"y":0.16},{"s":"5 min","x":44,"y":0.17},{"s":"5 min","x":47,"y":0.14},{"s":"5 min","x":50,"y":0.15},{"s":"5 min","x":53,"y":0.125},{"s":"5 min","x":56,"y":0.135},{"s":"5 min","x":59,"y":0.11},{"s":"5 min","x":62,"y":0.12},{"s":"5 min","x":65,"y":0.1},{"s":"5 min","x":68,"y":0.11},{"s":"5 min","x":71,"y":0.088},{"s":"5 min","x":74,"y":0.098},{"s":"5 min","x":77,"y":0.08},{"s":"5 min","x":80,"y":0.09},{"s":"5 min","x":84,"y":0.07},{"s":"5 min","x":88,"y":0.078},{"s":"5 min","x":92,"y":0.062},{"s":"5 min","x":96,"y":0.07},{"s":"5 min","x":100,"y":0.055},{"s":"5 min","x":104,"y":0.064},{"s":"5 min","x":108,"y":0.048},{"s":"5 min","x":112,"y":0.056},{"s":"5 min","x":116,"y":0.043},{"s":"5 min","x":120,"y":0.05},{"s":"5 min","x":125,"y":0.038},{"s":"5 min","x":130,"y":0.045},{"s":"5 min","x":135,"y":0.033},{"s":"5 min","x":140,"y":0.039},{"s":"5 min","x":145,"y":0.029},{"s":"5 min","x":150,"y":0.034},{"s":"5 min","x":155,"y":0.026},{"s":"5 min","x":160,"y":0.03},{"s":"5 min","x":165,"y":0.022},{"s":"5 min","x":170,"y":0.027},{"s":"5 min","x":175,"y":0.02},{"s":"5 min","x":180,"y":0.024},{"s":"5 min","x":186,"y":0.017},{"s":"5 min","x":192,"y":0.021},{"s":"5 min","x":198,"y":0.015},{"s":"5 min","x":204,"y":0.018},{"s":"5 min","x":210,"y":0.013},{"s":"5 min","x":216,"y":0.016},{"s":"5 min","x":222,"y":0.012},{"s":"5 min","x":228,"y":0.014},{"s":"5 min","x":234,"y":0.011},{"s":"5 min","x":240,"y":0.0125},{"s":"5 min","x":232,"y":0.0085},{"s":"5 min","x":245,"y":0.0075},{"s":"5 min","x":252,"y":0.0095},{"s":"5 min","x":258,"y":0.0068},{"s":"5 min","x":265,"y":0.0085},{"s":"5 min","x":272,"y":0.0062},{"s":"5 min","x":278,"y":0.0075},{"s":"5 min","x":285,"y":0.0095},{"s":"5 min","x":292,"y":0.0068},{"s":"5 min","x":298,"y":0.0055},{"s":"5 min","x":305,"y":0.0085},{"s":"5 min","x":312,"y":0.0075},{"s":"5 min","x":318,"y":0.0062},{"s":"5 min","x":325,"y":0.0095},{"s":"5 min","x":332,"y":0.0068},{"s":"5 min","x":338,"y":0.0055},{"s":"5 min","x":345,"y":0.0085},{"s":"5 min","x":352,"y":0.0075},{"s":"5 min","x":358,"y":0.0062},{"s":"5 min","x":365,"y":0.0068},{"s":"5 min","x":372,"y":0.0055},{"s":"5 min","x":378,"y":0.0085},{"s":"5 min","x":385,"y":0.0062},{"s":"5 min","x":392,"y":0.0075},{"s":"5 min","x":398,"y":0.0055},{"s":"5 min","x":250,"y":0.011},{"s":"5 min","x":270,"y":0.0105},{"s":"5 min","x":290,"y":0.011},{"s":"5 min","x":310,"y":0.01},{"s":"5 min","x":330,"y":0.0105},{"s":"5 min","x":-5,"y":0.0085},{"s":"5 min","x":-3,"y":0.33},
{"s":"10 min","x":0,"y":1},{"s":"10 min","x":2,"y":0.75},{"s":"10 min","x":5,"y":0.56},{"s":"10 min","x":8,"y":0.5},{"s":"10 min","x":11,"y":0.42},{"s":"10 min","x":14,"y":0.42},{"s":"10 min","x":17,"y":0.35},{"s":"10 min","x":20,"y":0.36},{"s":"10 min","x":24,"y":0.29},{"s":"10 min","x":28,"y":0.3},{"s":"10 min","x":32,"y":0.24},{"s":"10 min","x":36,"y":0.25},{"s":"10 min","x":40,"y":0.2},{"s":"10 min","x":44,"y":0.22},{"s":"10 min","x":48,"y":0.17},{"s":"10 min","x":52,"y":0.19},{"s":"10 min","x":56,"y":0.15},{"s":"10 min","x":60,"y":0.165},{"s":"10 min","x":65,"y":0.13},{"s":"10 min","x":70,"y":0.145},{"s":"10 min","x":75,"y":0.115},{"s":"10 min","x":80,"y":0.13},{"s":"10 min","x":85,"y":0.1},{"s":"10 min","x":90,"y":0.115},{"s":"10 min","x":95,"y":0.088},{"s":"10 min","x":100,"y":0.1},{"s":"10 min","x":106,"y":0.08},{"s":"10 min","x":112,"y":0.09},{"s":"10 min","x":118,"y":0.071},{"s":"10 min","x":124,"y":0.082},{"s":"10 min","x":130,"y":0.064},{"s":"10 min","x":136,"y":0.074},{"s":"10 min","x":142,"y":0.057},{"s":"10 min","x":148,"y":0.067},{"s":"10 min","x":154,"y":0.05},{"s":"10 min","x":160,"y":0.06},{"s":"10 min","x":167,"y":0.045},{"s":"10 min","x":174,"y":0.053},{"s":"10 min","x":181,"y":0.04},{"s":"10 min","x":188,"y":0.048},{"s":"10 min","x":195,"y":0.036},{"s":"10 min","x":202,"y":0.043},{"s":"10 min","x":210,"y":0.032},{"s":"10 min","x":218,"y":0.039},{"s":"10 min","x":226,"y":0.029},{"s":"10 min","x":234,"y":0.035},{"s":"10 min","x":242,"y":0.026},{"s":"10 min","x":250,"y":0.032},{"s":"10 min","x":258,"y":0.023},{"s":"10 min","x":266,"y":0.029},{"s":"10 min","x":274,"y":0.021},{"s":"10 min","x":282,"y":0.026},{"s":"10 min","x":290,"y":0.018},{"s":"10 min","x":298,"y":0.024},{"s":"10 min","x":306,"y":0.016},{"s":"10 min","x":314,"y":0.021},{"s":"10 min","x":322,"y":0.015},{"s":"10 min","x":330,"y":0.019},{"s":"10 min","x":338,"y":0.013},{"s":"10 min","x":346,"y":0.017},{"s":"10 min","x":354,"y":0.012},{"s":"10 min","x":362,"y":0.016},{"s":"10 min","x":370,"y":0.011},{"s":"10 min","x":378,"y":0.015},{"s":"10 min","x":386,"y":0.01},{"s":"10 min","x":394,"y":0.014},{"s":"10 min","x":400,"y":0.012},{"s":"10 min","x":300,"y":0.0085},{"s":"10 min","x":320,"y":0.0075},{"s":"10 min","x":340,"y":0.0095},{"s":"10 min","x":360,"y":0.0085},{"s":"10 min","x":380,"y":0.0075},{"s":"10 min","x":395,"y":0.0085},{"s":"10 min","x":350,"y":0.0068},{"s":"10 min","x":375,"y":0.0062},{"s":"10 min","x":-4,"y":0.0075},
{"s":"20 min","x":0,"y":1},{"s":"20 min","x":2,"y":0.78},{"s":"20 min","x":5,"y":0.6},{"s":"20 min","x":8,"y":0.54},{"s":"20 min","x":11,"y":0.45},{"s":"20 min","x":14,"y":0.45},{"s":"20 min","x":17,"y":0.38},{"s":"20 min","x":20,"y":0.39},{"s":"20 min","x":24,"y":0.32},{"s":"20 min","x":28,"y":0.33},{"s":"20 min","x":32,"y":0.27},{"s":"20 min","x":36,"y":0.28},{"s":"20 min","x":40,"y":0.23},{"s":"20 min","x":44,"y":0.25},{"s":"20 min","x":48,"y":0.2},{"s":"20 min","x":52,"y":0.215},{"s":"20 min","x":56,"y":0.18},{"s":"20 min","x":60,"y":0.19},{"s":"20 min","x":65,"y":0.155},{"s":"20 min","x":70,"y":0.165},{"s":"20 min","x":75,"y":0.135},{"s":"20 min","x":80,"y":0.15},{"s":"20 min","x":85,"y":0.12},{"s":"20 min","x":90,"y":0.13},{"s":"20 min","x":95,"y":0.108},{"s":"20 min","x":100,"y":0.118},{"s":"20 min","x":106,"y":0.095},{"s":"20 min","x":112,"y":0.104},{"s":"20 min","x":118,"y":0.085},{"s":"20 min","x":124,"y":0.094},{"s":"20 min","x":130,"y":0.077},{"s":"20 min","x":136,"y":0.085},{"s":"20 min","x":142,"y":0.069},{"s":"20 min","x":148,"y":0.077},{"s":"20 min","x":154,"y":0.062},{"s":"20 min","x":160,"y":0.07},{"s":"20 min","x":167,"y":0.056},{"s":"20 min","x":174,"y":0.064},{"s":"20 min","x":181,"y":0.051},{"s":"20 min","x":188,"y":0.058},{"s":"20 min","x":195,"y":0.046},{"s":"20 min","x":202,"y":0.053},{"s":"20 min","x":210,"y":0.042},{"s":"20 min","x":218,"y":0.048},{"s":"20 min","x":226,"y":0.038},{"s":"20 min","x":234,"y":0.044},{"s":"20 min","x":242,"y":0.034},{"s":"20 min","x":250,"y":0.04},{"s":"20 min","x":258,"y":0.031},{"s":"20 min","x":266,"y":0.036},{"s":"20 min","x":274,"y":0.028},{"s":"20 min","x":282,"y":0.033},{"s":"20 min","x":290,"y":0.025},{"s":"20 min","x":298,"y":0.03},{"s":"20 min","x":306,"y":0.023},{"s":"20 min","x":314,"y":0.027},{"s":"20 min","x":322,"y":0.021},{"s":"20 min","x":330,"y":0.025},{"s":"20 min","x":338,"y":0.019},{"s":"20 min","x":346,"y":0.023},{"s":"20 min","x":354,"y":0.018},{"s":"20 min","x":362,"y":0.021},{"s":"20 min","x":370,"y":0.016},{"s":"20 min","x":378,"y":0.02},{"s":"20 min","x":386,"y":0.015},{"s":"20 min","x":394,"y":0.018},{"s":"20 min","x":400,"y":0.016},
{"s":"30 min","x":0,"y":1},{"s":"30 min","x":2,"y":0.8},{"s":"30 min","x":5,"y":0.62},{"s":"30 min","x":8,"y":0.56},{"s":"30 min","x":11,"y":0.47},{"s":"30 min","x":14,"y":0.48},{"s":"30 min","x":17,"y":0.41},{"s":"30 min","x":20,"y":0.43},{"s":"30 min","x":24,"y":0.36},{"s":"30 min","x":28,"y":0.37},{"s":"30 min","x":32,"y":0.31},{"s":"30 min","x":36,"y":0.32},{"s":"30 min","x":40,"y":0.26},{"s":"30 min","x":44,"y":0.29},{"s":"30 min","x":48,"y":0.23},{"s":"30 min","x":52,"y":0.25},{"s":"30 min","x":56,"y":0.21},{"s":"30 min","x":60,"y":0.22},{"s":"30 min","x":65,"y":0.18},{"s":"30 min","x":70,"y":0.195},{"s":"30 min","x":75,"y":0.16},{"s":"30 min","x":80,"y":0.175},{"s":"30 min","x":85,"y":0.145},{"s":"30 min","x":90,"y":0.16},{"s":"30 min","x":95,"y":0.132},{"s":"30 min","x":100,"y":0.145},{"s":"30 min","x":106,"y":0.12},{"s":"30 min","x":112,"y":0.13},{"s":"30 min","x":118,"y":0.108},{"s":"30 min","x":124,"y":0.118},{"s":"30 min","x":130,"y":0.098},{"s":"30 min","x":136,"y":0.107},{"s":"30 min","x":142,"y":0.089},{"s":"30 min","x":148,"y":0.098},{"s":"30 min","x":154,"y":0.081},{"s":"30 min","x":160,"y":0.09},{"s":"30 min","x":167,"y":0.074},{"s":"30 min","x":174,"y":0.082},{"s":"30 min","x":181,"y":0.068},{"s":"30 min","x":188,"y":0.075},{"s":"30 min","x":195,"y":0.062},{"s":"30 min","x":202,"y":0.069},{"s":"30 min","x":210,"y":0.056},{"s":"30 min","x":218,"y":0.063},{"s":"30 min","x":226,"y":0.051},{"s":"30 min","x":234,"y":0.058},{"s":"30 min","x":242,"y":0.047},{"s":"30 min","x":250,"y":0.053},{"s":"30 min","x":258,"y":0.043},{"s":"30 min","x":266,"y":0.049},{"s":"30 min","x":274,"y":0.039},{"s":"30 min","x":282,"y":0.045},{"s":"30 min","x":290,"y":0.036},{"s":"30 min","x":298,"y":0.041},{"s":"30 min","x":306,"y":0.033},{"s":"30 min","x":314,"y":0.037},{"s":"30 min","x":322,"y":0.03},{"s":"30 min","x":330,"y":0.034},{"s":"30 min","x":338,"y":0.028},{"s":"30 min","x":346,"y":0.031},{"s":"30 min","x":354,"y":0.026},{"s":"30 min","x":362,"y":0.029},{"s":"30 min","x":370,"y":0.024},{"s":"30 min","x":378,"y":0.027},{"s":"30 min","x":386,"y":0.022},{"s":"30 min","x":394,"y":0.025},{"s":"30 min","x":400,"y":0.021},
{"s":"60 min","x":0,"y":1},{"s":"60 min","x":2,"y":0.82},{"s":"60 min","x":5,"y":0.65},{"s":"60 min","x":8,"y":0.58},{"s":"60 min","x":11,"y":0.5},{"s":"60 min","x":14,"y":0.51},{"s":"60 min","x":17,"y":0.44},{"s":"60 min","x":20,"y":0.46},{"s":"60 min","x":24,"y":0.39},{"s":"60 min","x":28,"y":0.41},{"s":"60 min","x":32,"y":0.35},{"s":"60 min","x":36,"y":0.37},{"s":"60 min","x":40,"y":0.3},{"s":"60 min","x":44,"y":0.33},{"s":"60 min","x":48,"y":0.27},{"s":"60 min","x":52,"y":0.3},{"s":"60 min","x":56,"y":0.24},{"s":"60 min","x":60,"y":0.265},{"s":"60 min","x":65,"y":0.215},{"s":"60 min","x":70,"y":0.235},{"s":"60 min","x":75,"y":0.19},{"s":"60 min","x":80,"y":0.21},{"s":"60 min","x":85,"y":0.172},{"s":"60 min","x":90,"y":0.19},{"s":"60 min","x":95,"y":0.158},{"s":"60 min","x":100,"y":0.175},{"s":"60 min","x":106,"y":0.145},{"s":"60 min","x":112,"y":0.16},{"s":"60 min","x":118,"y":0.133},{"s":"60 min","x":124,"y":0.147},{"s":"60 min","x":130,"y":0.122},{"s":"60 min","x":136,"y":0.135},{"s":"60 min","x":142,"y":0.112},{"s":"60 min","x":148,"y":0.124},{"s":"60 min","x":154,"y":0.103},{"s":"60 min","x":160,"y":0.115},{"s":"60 min","x":167,"y":0.095},{"s":"60 min","x":174,"y":0.107},{"s":"60 min","x":181,"y":0.088},{"s":"60 min","x":188,"y":0.099},{"s":"60 min","x":195,"y":0.082},{"s":"60 min","x":202,"y":0.092},{"s":"60 min","x":210,"y":0.076},{"s":"60 min","x":218,"y":0.086},{"s":"60 min","x":226,"y":0.07},{"s":"60 min","x":234,"y":0.08},{"s":"60 min","x":242,"y":0.065},{"s":"60 min","x":250,"y":0.075},{"s":"60 min","x":258,"y":0.06},{"s":"60 min","x":266,"y":0.07},{"s":"60 min","x":274,"y":0.056},{"s":"60 min","x":282,"y":0.065},{"s":"60 min","x":290,"y":0.052},{"s":"60 min","x":298,"y":0.06},{"s":"60 min","x":306,"y":0.048},{"s":"60 min","x":314,"y":0.056},{"s":"60 min","x":322,"y":0.045},{"s":"60 min","x":330,"y":0.052},{"s":"60 min","x":338,"y":0.042},{"s":"60 min","x":346,"y":0.049},{"s":"60 min","x":354,"y":0.039},{"s":"60 min","x":362,"y":0.046},{"s":"60 min","x":370,"y":0.037},{"s":"60 min","x":378,"y":0.043},{"s":"60 min","x":386,"y":0.034},{"s":"60 min","x":394,"y":0.04},{"s":"60 min","x":400,"y":0.032},{"s":"60 min","x":-5,"y":0.0095}
],
"eP":[
{"s":"0 min","x":0.07,"y":30},{"s":"0 min","x":0.072,"y":27.5},{"s":"0 min","x":0.075,"y":25},{"s":"0 min","x":0.078,"y":22},{"s":"0 min","x":0.085,"y":22.5},{"s":"0 min","x":0.09,"y":21},{"s":"0 min","x":0.13,"y":17},{"s":"0 min","x":0.14,"y":18},{"s":"0 min","x":0.15,"y":19},{"s":"0 min","x":0.16,"y":17.5},{"s":"0 min","x":0.2,"y":14},{"s":"0 min","x":0.21,"y":9},{"s":"0 min","x":0.22,"y":13},{"s":"0 min","x":0.25,"y":12},{"s":"0 min","x":0.28,"y":11},{"s":"0 min","x":0.3,"y":7},{"s":"0 min","x":0.35,"y":6.5},{"s":"0 min","x":0.4,"y":6},{"s":"0 min","x":0.45,"y":5},{"s":"0 min","x":0.5,"y":4},{"s":"0 min","x":0.55,"y":4.5},{"s":"0 min","x":0.6,"y":3.5},{"s":"0 min","x":0.7,"y":4},{"s":"0 min","x":0.8,"y":3},{"s":"0 min","x":0.9,"y":4},{"s":"0 min","x":1.0,"y":2.5},{"s":"0 min","x":1.2,"y":2},{"s":"0 min","x":1.5,"y":2},{"s":"0 min","x":2,"y":1.8},{"s":"0 min","x":2.5,"y":1.7},{"s":"0 min","x":3,"y":1.6},{"s":"0 min","x":4,"y":1.2},{"s":"0 min","x":5,"y":1},{"s":"0 min","x":7,"y":0.9},{"s":"0 min","x":10,"y":0.8},{"s":"0 min","x":14,"y":0.7},{"s":"0 min","x":20,"y":0.6},{"s":"0 min","x":30,"y":0.5},{"s":"0 min","x":45,"y":0.5},{"s":"0 min","x":65,"y":0.4},{"s":"0 min","x":100,"y":0.4},{"s":"0 min","x":150,"y":0.4},{"s":"0 min","x":220,"y":0.3},{"s":"0 min","x":320,"y":0.3},{"s":"0 min","x":450,"y":0.3},
{"s":"5 min","x":0.06,"y":43},{"s":"5 min","x":0.065,"y":36},{"s":"5 min","x":0.068,"y":33},{"s":"5 min","x":0.07,"y":30},{"s":"5 min","x":0.072,"y":47},{"s":"5 min","x":0.08,"y":48},{"s":"5 min","x":0.09,"y":50},{"s":"5 min","x":0.1,"y":51},{"s":"5 min","x":0.12,"y":51.5},{"s":"5 min","x":0.15,"y":52},{"s":"5 min","x":0.2,"y":51},{"s":"5 min","x":0.25,"y":50},{"s":"5 min","x":0.3,"y":50},{"s":"5 min","x":0.4,"y":49.5},{"s":"5 min","x":0.5,"y":49},{"s":"5 min","x":0.6,"y":49.5},{"s":"5 min","x":0.8,"y":49},{"s":"5 min","x":1.0,"y":50.5},{"s":"5 min","x":1.3,"y":48.5},{"s":"5 min","x":1.7,"y":48},{"s":"5 min","x":2.2,"y":47.5},{"s":"5 min","x":3,"y":47},{"s":"5 min","x":4,"y":46.5},{"s":"5 min","x":5,"y":46},{"s":"5 min","x":6.5,"y":45.5},{"s":"5 min","x":8,"y":45},{"s":"5 min","x":10,"y":44.5},{"s":"5 min","x":13,"y":44},{"s":"5 min","x":16,"y":43},{"s":"5 min","x":20,"y":42.5},{"s":"5 min","x":25,"y":41.5},{"s":"5 min","x":32,"y":40.5},{"s":"5 min","x":40,"y":39.5},{"s":"5 min","x":50,"y":38},{"s":"5 min","x":65,"y":37},{"s":"5 min","x":80,"y":36},{"s":"5 min","x":100,"y":35},{"s":"5 min","x":130,"y":34},{"s":"5 min","x":170,"y":32},{"s":"5 min","x":220,"y":29},{"s":"5 min","x":260,"y":28},{"s":"5 min","x":320,"y":29.5},{"s":"5 min","x":380,"y":31.5},
{"s":"10 min","x":0.075,"y":53},{"s":"10 min","x":0.085,"y":56},{"s":"10 min","x":0.1,"y":62},{"s":"10 min","x":0.12,"y":63.5},{"s":"10 min","x":0.14,"y":62},{"s":"10 min","x":0.17,"y":63},{"s":"10 min","x":0.2,"y":62},{"s":"10 min","x":0.25,"y":61.5},{"s":"10 min","x":0.3,"y":61.7},{"s":"10 min","x":0.4,"y":61.2},{"s":"10 min","x":0.5,"y":60.5},{"s":"10 min","x":0.6,"y":60.4},{"s":"10 min","x":0.8,"y":60},{"s":"10 min","x":1,"y":59.8},{"s":"10 min","x":1.3,"y":59.5},{"s":"10 min","x":1.7,"y":59},{"s":"10 min","x":2.2,"y":58.6},{"s":"10 min","x":2.8,"y":58.5},{"s":"10 min","x":3.5,"y":57},{"s":"10 min","x":4.5,"y":56.5},{"s":"10 min","x":6,"y":58},{"s":"10 min","x":7.5,"y":57},{"s":"10 min","x":9,"y":56},{"s":"10 min","x":12,"y":55},{"s":"10 min","x":15,"y":54.5},{"s":"10 min","x":20,"y":53.5},{"s":"10 min","x":25,"y":53},{"s":"10 min","x":32,"y":52},{"s":"10 min","x":40,"y":51.5},{"s":"10 min","x":55,"y":50.5},{"s":"10 min","x":70,"y":49.5},{"s":"10 min","x":90,"y":48},{"s":"10 min","x":120,"y":46},{"s":"10 min","x":160,"y":44},{"s":"10 min","x":200,"y":42},{"s":"10 min","x":280,"y":39},{"s":"10 min","x":420,"y":38},
{"s":"20 min","x":0.075,"y":48},{"s":"20 min","x":0.085,"y":52},{"s":"20 min","x":0.1,"y":56},{"s":"20 min","x":0.12,"y":57.5},{"s":"20 min","x":0.14,"y":56.5},{"s":"20 min","x":0.17,"y":57},{"s":"20 min","x":0.2,"y":56.5},{"s":"20 min","x":0.25,"y":56},{"s":"20 min","x":0.3,"y":54.5},{"s":"20 min","x":0.4,"y":55},{"s":"20 min","x":0.5,"y":55},{"s":"20 min","x":0.7,"y":54.5},{"s":"20 min","x":0.9,"y":54},{"s":"20 min","x":1.2,"y":53.5},{"s":"20 min","x":1.5,"y":54.5},{"s":"20 min","x":2,"y":54},{"s":"20 min","x":2.5,"y":54},{"s":"20 min","x":3.2,"y":53},{"s":"20 min","x":4,"y":52},{"s":"20 min","x":5,"y":51},{"s":"20 min","x":6.5,"y":50.5},{"s":"20 min","x":8,"y":50},{"s":"20 min","x":10,"y":49},{"s":"20 min","x":13,"y":49.5},{"s":"20 min","x":16,"y":48.5},{"s":"20 min","x":20,"y":48},{"s":"20 min","x":25,"y":47},{"s":"20 min","x":32,"y":46.5},{"s":"20 min","x":40,"y":46},{"s":"20 min","x":55,"y":45.5},{"s":"20 min","x":70,"y":44.5},{"s":"20 min","x":90,"y":44},{"s":"20 min","x":120,"y":42},{"s":"20 min","x":160,"y":40},{"s":"20 min","x":220,"y":38},{"s":"20 min","x":300,"y":37},{"s":"20 min","x":420,"y":36},
{"s":"30 min","x":0.075,"y":41},{"s":"30 min","x":0.08,"y":46},{"s":"30 min","x":0.1,"y":51},{"s":"30 min","x":0.11,"y":52},{"s":"30 min","x":0.13,"y":53},{"s":"30 min","x":0.15,"y":52},{"s":"30 min","x":0.18,"y":51},{"s":"30 min","x":0.2,"y":51.5},{"s":"30 min","x":0.25,"y":50.5},{"s":"30 min","x":0.3,"y":50.5},{"s":"30 min","x":0.35,"y":49.5},{"s":"30 min","x":0.45,"y":50},{"s":"30 min","x":0.55,"y":49},{"s":"30 min","x":0.7,"y":49.5},{"s":"30 min","x":0.9,"y":49},{"s":"30 min","x":1.1,"y":50},{"s":"30 min","x":1.4,"y":48},{"s":"30 min","x":1.8,"y":48.5},{"s":"30 min","x":2.3,"y":48},{"s":"30 min","x":3,"y":47.5},{"s":"30 min","x":4,"y":48},{"s":"30 min","x":5,"y":47.5},{"s":"30 min","x":6.5,"y":47},{"s":"30 min","x":8,"y":47.5},{"s":"30 min","x":10,"y":47},{"s":"30 min","x":13,"y":46.5},{"s":"30 min","x":16,"y":46},{"s":"30 min","x":20,"y":45.5},{"s":"30 min","x":25,"y":45},{"s":"30 min","x":32,"y":44},{"s":"30 min","x":40,"y":43.5},{"s":"30 min","x":50,"y":43},{"s":"30 min","x":65,"y":42.5},{"s":"30 min","x":80,"y":42},{"s":"30 min","x":100,"y":41.5},{"s":"30 min","x":130,"y":40.5},{"s":"30 min","x":170,"y":40},{"s":"30 min","x":220,"y":38},{"s":"30 min","x":280,"y":37},{"s":"30 min","x":400,"y":35},
{"s":"60 min","x":0.07,"y":43},{"s":"60 min","x":0.075,"y":47},{"s":"60 min","x":0.08,"y":48.5},{"s":"60 min","x":0.09,"y":48},{"s":"60 min","x":0.1,"y":48.5},{"s":"60 min","x":0.12,"y":48.5},{"s":"60 min","x":0.14,"y":49},{"s":"60 min","x":0.17,"y":48},{"s":"60 min","x":0.2,"y":48.5},{"s":"60 min","x":0.25,"y":48},{"s":"60 min","x":0.3,"y":47.5},{"s":"60 min","x":0.35,"y":48},{"s":"60 min","x":0.45,"y":47.5},{"s":"60 min","x":0.55,"y":47},{"s":"60 min","x":0.7,"y":47},{"s":"60 min","x":0.9,"y":46.5},{"s":"60 min","x":1.1,"y":47},{"s":"60 min","x":1.4,"y":46.5},{"s":"60 min","x":1.8,"y":47},{"s":"60 min","x":2.3,"y":46},{"s":"60 min","x":3,"y":46},{"s":"60 min","x":4,"y":45.5},{"s":"60 min","x":5,"y":45.5},{"s":"60 min","x":6.5,"y":45.5},{"s":"60 min","x":8,"y":45},{"s":"60 min","x":10,"y":44.5},{"s":"60 min","x":13,"y":44.5},{"s":"60 min","x":16,"y":44},{"s":"60 min","x":20,"y":43.5},{"s":"60 min","x":25,"y":43},{"s":"60 min","x":32,"y":42.5},{"s":"60 min","x":40,"y":42},{"s":"60 min","x":50,"y":41.5},{"s":"60 min","x":65,"y":41},{"s":"60 min","x":80,"y":41},{"s":"60 min","x":100,"y":40.5},{"s":"60 min","x":130,"y":39.5},{"s":"60 min","x":170,"y":38.5},{"s":"60 min","x":220,"y":37},{"s":"60 min","x":280,"y":36},{"s":"60 min","x":350,"y":34},{"s":"60 min","x":420,"y":34.5}
]
},
"vconcat":[
{"hconcat":[
 {"data":{"values":[{}]},"mark":{"type":"point","opacity":0},"width":9,"height":10,"view":{"stroke":null}},
 {"width":172,"height":141,
  "title":{"text":"a","dx":-27,"dy":24},
  "layer":[
   {"data":{"name":"aL"},"mark":{"type":"line","interpolate":"monotone","strokeWidth":1,"clip":true},
    "encoding":{
     "x":{"field":"x","type":"quantitative","scale":{"domain":[400,850],"nice":false},"axis":{"title":"Wavelength (nm)","values":[400,500,600,700,800]}},
     "y":{"field":"y","type":"quantitative","scale":{"domain":[0,0.2],"nice":false},"axis":{"title":"Absorbance (a.u.)","values":[0,0.1,0.2],"format":".1f"}},
     "color":{"field":"s","type":"nominal","scale":{"domain":["0 min","5 min","10 min","20 min","30 min","60 min"],"range":["#000000","#FF0000","#0000FF","#009900","#1010B0","#9E1B1B"]},"legend":null}}},
   {"data":{"name":"aM"},"mark":{"type":"point","filled":false,"size":22,"strokeWidth":1,"clip":true},
    "encoding":{
     "x":{"field":"x","type":"quantitative","axis":null},
     "y":{"field":"y","type":"quantitative"},
     "color":{"field":"s","type":"nominal","legend":{"title":null,"orient":"top-right","offset":5}},
     "shape":{"field":"s","type":"nominal","scale":{"domain":["0 min","5 min","10 min","20 min","30 min","60 min"],"range":["square","circle","triangle-up","diamond","triangle-left","M0,-1L0.235,-0.324L0.951,-0.309L0.38,0.124L0.588,0.809L0,0.4L-0.588,0.809L-0.38,0.124L-0.951,-0.309L-0.235,-0.324Z"]},"legend":{"title":null,"orient":"top-right","offset":5}}}},
   {"data":{"name":"aM"},"mark":{"type":"point","opacity":0},
    "encoding":{"x":{"field":"x","type":"quantitative","axis":{"orient":"top","title":"Energy (eV)","values":[413.33,459.26,516.67,590.48,688.89,826.67],"labelExpr":"format(1240/datum.value, '.1~f')"}}}}
  ],
  "resolve":{"axis":{"x":"independent"}}
 },
 {"data":{"values":[{}]},"mark":{"type":"point","opacity":0},"width":95,"height":10,"view":{"stroke":null}},
 {"width":192,"height":140,
  "title":{"text":"b","dx":-15,"offset":8},
  "layer":[
   {"data":{"name":"bL"},"mark":{"type":"line","strokeWidth":1},
    "encoding":{
     "x":{"field":"x","type":"quantitative","scale":{"domain":[10,40],"nice":false},"axis":{"title":"2θ (°)","values":[10,15,20,25,30,35,40]}},
     "y":{"field":"y","type":"quantitative","scale":{"domain":[0,140],"nice":false},"axis":{"title":"XRD intensity (a.u.)","labels":false,"ticks":false}},
     "color":{"field":"s","type":"nominal","scale":{"domain":["ZnO/PEIE","0 min","5 min","10 min","20 min","30 min","60 min","FAPbI3"],"range":["#000000","#FF0000","#0000FF","#FF00FF","#008000","#000080","#8A2BE2","#993399"]},"legend":null}}},
   {"data":{"name":"bT"},"mark":{"type":"text","fontSize":10,"color":"#000"},
    "encoding":{"x":{"field":"x","type":"quantitative"},"y":{"field":"y","type":"quantitative"},"text":{"field":"t"}}}
  ]
 }
],"spacing":18,"align":"each",
 "resolve":{"scale":{"color":"independent","shape":"independent","x":"independent","y":"independent"}}},
{"hconcat":[
 {"width":179,"height":137,
  "title":{"text":"c","dx":-25,"offset":2,"dy":12},
  "layer":[
   {"data":{"name":"cL"},"mark":{"type":"line","strokeWidth":1.5,"clip":true},
    "encoding":{
     "x":{"field":"x","type":"quantitative","scale":{"domain":[500,850],"nice":false},"axis":{"title":"Wavelength (nm)","values":[500,600,700,800]}},
     "y":{"field":"y","type":"quantitative","scale":{"type":"log","domain":[0.0001,1],"nice":false},"axis":{"title":"Normalized PL intensity","values":[1,0.1,0.01,0.001,0.0001],"labelExpr":"datum.value > 0.5 ? '10⁰' : datum.value > 0.05 ? '10⁻¹' : datum.value > 0.005 ? '10⁻²' : datum.value > 0.0005 ? '10⁻³' : '10⁻⁴'","labelFontSize":9,"titleFontSize":11,"titlePadding":0}},
     "color":{"field":"s","type":"nominal","scale":{"domain":["0 min","5 min","10 min","20 min","30 min","60 min"],"range":["#000000","#FF0000","#0000FF","#FF00FF","#008000","#000080"]},"legend":{"title":null,"orient":"bottom-right","offset":8,"symbolType":"stroke","symbolSize":300,"symbolStrokeWidth":2}}}},
   {"data":{"name":"cL"},"mark":{"type":"point","opacity":0},
    "encoding":{"x":{"field":"x","type":"quantitative","axis":{"orient":"top","title":"Energy (eV)","values":[516.67,563.64,620,688.89,775],"labelExpr":"format(1240/datum.value, '.1~f')"}}}}
  ],
  "resolve":{"axis":{"x":"independent"}}
 },
 {"width":176,"height":143,
  "title":{"text":"d","dx":-29,"offset":12},
  "data":{"name":"dP"},
  "mark":{"type":"square","size":4,"clip":true},
  "encoding":{
   "x":{"field":"x","type":"quantitative","scale":{"domain":[-8,402],"nice":false},"axis":{"title":"Time (ns)","values":[0,100,200,300,400]}},
   "y":{"field":"y","type":"quantitative","scale":{"type":"log","domain":[0.0045,1.05],"nice":false},"axis":{"title":"PL intensity (Normalized)","values":[1,0.1,0.01],"labelExpr":"datum.value > 0.5 ? '10⁰' : datum.value > 0.05 ? '10⁻¹' : '10⁻²'","labelFontSize":9,"titleFontSize":11}},
   "color":{"field":"s","type":"nominal","scale":{"domain":["0 min","5 min","10 min","20 min","30 min","60 min"],"range":["#000000","#FF0000","#0000FF","#FF00FF","#008000","#000080"]},"legend":{"title":null,"orient":"top-right","offset":6,"symbolType":"square","symbolSize":8}}}
 },
 {"width":190,"height":143,
  "title":{"text":"e","dx":-37,"offset":12},
  "data":{"name":"eP"},
  "mark":{"type":"point","filled":true,"size":14,"opacity":1,"clip":true},
  "encoding":{
   "x":{"field":"x","type":"quantitative","scale":{"type":"log","domain":[0.055,480],"nice":false},"axis":{"title":"Light intensity (mW cm⁻²)","values":[0.1,1,10,100],"format":"~g"}},
   "y":{"field":"y","type":"quantitative","scale":{"domain":[-2,70],"nice":false},"axis":{"title":"PLQE (%)","values":[0,20,40,60],"labelPadding":9,"titlePadding":11}},
   "color":{"field":"s","type":"nominal","scale":{"domain":["0 min","5 min","10 min","20 min","30 min","60 min"],"range":["#000000","#FF0000","#0000FF","#FF00FF","#008000","#000080"]},"legend":{"title":null,"orient":"bottom-right","offset":6,"symbolSize":25}},
   "shape":{"field":"s","type":"nominal","scale":{"domain":["0 min","5 min","10 min","20 min","30 min","60 min"],"range":["square","circle","triangle-up","triangle-down","diamond","triangle-left"]},"legend":{"title":null,"orient":"bottom-right","offset":6,"symbolSize":25}}}
 }
],"spacing":14,"align":"each",
 "resolve":{"scale":{"color":"independent","shape":"independent","x":"independent","y":"independent"}}}
],
"spacing":9,
"resolve":{"scale":{"color":"independent","shape":"independent","x":"independent","y":"independent"}}
}
